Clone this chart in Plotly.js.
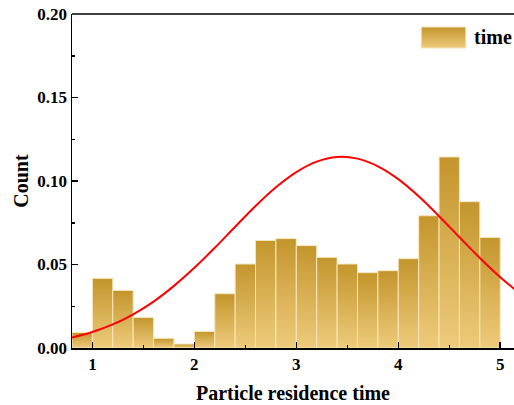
<!DOCTYPE html>
<html>
<head>
<meta charset="utf-8">
<script src="https://cdn.plot.ly/plotly-3.0.1.min.js"></script>
<style>
  html, body { margin: 0; padding: 0; background: #ffffff; }
  #chart { width: 514px; height: 405px; }
</style>
</head>
<body>
<div id="chart"></div>
<script>
// Histogram of particle residence time (relative frequency per 0.2-wide bin)
const binEdges = [0.8, 1.0, 1.2, 1.4, 1.6, 1.8, 2.0, 2.2, 2.4, 2.6, 2.8,
                  3.0, 3.2, 3.4, 3.6, 3.8, 4.0, 4.2, 4.4, 4.6, 4.8, 5.0];
const freq = [0.0093, 0.0417, 0.0345, 0.0183, 0.0058, 0.0024, 0.0099, 0.0325,
              0.0503, 0.0644, 0.0655, 0.0613, 0.0543, 0.0503, 0.0451, 0.0463,
              0.0535, 0.0792, 0.1144, 0.0876, 0.0662];

// Fitted normal curve, sampled along the axis
const fitX = [0.8, 1.0, 1.2, 1.4, 1.6, 1.8, 2.0, 2.2, 2.4, 2.6, 2.8, 3.0,
              3.2, 3.4, 3.6, 3.8, 4.0, 4.2, 4.4, 4.6, 4.8, 5.0, 5.2];
const fitY = [0.0063, 0.0096, 0.0141, 0.0202, 0.0278, 0.0372, 0.0480, 0.0600,
              0.0726, 0.0850, 0.0962, 0.1053, 0.1116, 0.1144, 0.1134, 0.1088,
              0.1011, 0.0908, 0.0789, 0.0663, 0.0539, 0.0424, 0.0323];

const xTicks = [1, 2, 3, 4, 5];
const yTicks = [0, 0.05, 0.10, 0.15, 0.20];
const yTickText = ['0.00', '0.05', '0.10', '0.15', '0.20'];
const seriesName = 'time';

const DARK = '#c3952c';
const LIGHT = '#eecb7b';
const EDGE = '#f6e6bd';
const barGradient = { type: 'vertical', colorscale: [[0, LIGHT], [1, DARK]] };

const traces = [];

// one filled outline per bin so each bar carries its own top-to-bottom gradient
freq.forEach((v, i) => {
  const x0 = binEdges[i], x1 = binEdges[i + 1];
  traces.push({
    type: 'scatter', mode: 'lines',
    x: [x0, x0, x1, x1, x0],
    y: [0, v, v, 0, 0],
    fill: 'toself',
    fillgradient: barGradient,
    line: { color: EDGE, width: 1 },
    hoverinfo: 'skip',
    showlegend: false
  });
});

// fitted curve
traces.push({
  type: 'scatter', mode: 'lines',
  x: fitX, y: fitY,
  line: { color: '#ff0000', width: 2, shape: 'spline' },
  hoverinfo: 'skip',
  showlegend: false
});

// legend swatch on a unit overlay axis pair
traces.push({
  type: 'scatter', mode: 'lines',
  x: [0.79, 0.79, 0.891, 0.891, 0.79],
  y: [0.898, 0.961, 0.961, 0.898, 0.898],
  xaxis: 'x2', yaxis: 'y2',
  fill: 'toself',
  fillgradient: barGradient,
  line: { color: EDGE, width: 1 },
  hoverinfo: 'skip',
  showlegend: false
});

const FONT = 'Liberation Serif, Times New Roman, serif';

const layout = {
  width: 514, height: 405,
  margin: { l: 72, r: 0, t: 14, b: 57 },
  paper_bgcolor: '#ffffff',
  plot_bgcolor: '#ffffff',
  showlegend: false,
  font: { family: FONT, color: '#000000' },
  xaxis: {
    range: [0.8, 5.135],
    tickvals: xTicks,
    ticktext: xTicks.map(String),
    ticks: 'inside', ticklen: 6, tickwidth: 1.5, tickcolor: '#000',
    minor: { tickvals: [1.5, 2.5, 3.5, 4.5], ticks: 'inside', ticklen: 3, tickwidth: 1.5, tickcolor: '#000' },
    showline: true, linecolor: '#000', linewidth: 1.5,
    showgrid: false, zeroline: false,
    tickfont: { family: FONT, size: 17, color: '#000', weight: 'bold' },
    title: { text: '<b>Particle residence time</b>', font: { family: FONT, size: 20, color: '#000' }, standoff: 13 },
    automargin: false
  },
  yaxis: {
    range: [0, 0.2],
    tickvals: yTicks,
    ticktext: yTickText,
    ticks: 'inside', ticklen: 6, tickwidth: 1.5, tickcolor: '#000',
    minor: { tickvals: [0.025, 0.075, 0.125, 0.175], ticks: 'inside', ticklen: 3, tickwidth: 1.5, tickcolor: '#000' },
    showline: true, linecolor: '#000', linewidth: 1.5,
    showgrid: false, zeroline: false,
    tickfont: { family: FONT, size: 17, color: '#000', weight: 'bold' },
    title: { text: '<b>Count</b>', font: { family: FONT, size: 20, color: '#000' }, standoff: 3 },
    automargin: false
  },
  xaxis2: { overlaying: 'x', range: [0, 1], visible: false, fixedrange: true },
  yaxis2: { overlaying: 'y', range: [0, 1], visible: false, fixedrange: true },
  shapes: [
    { type: 'line', xref: 'paper', yref: 'paper', x0: 0, x1: 1, y0: 1, y1: 1,
      line: { color: '#000', width: 1.5 } }
  ],
  annotations: [
    { xref: 'paper', yref: 'paper', x: 0.904, y: 0.93, xanchor: 'left', yanchor: 'middle',
      text: '<b>' + seriesName + '</b>', showarrow: false,
      font: { family: FONT, size: 20, color: '#000' } }
  ]
};

Plotly.newPlot('chart', traces, layout, { displayModeBar: false, staticPlot: true });
</script>
</body>
</html>
